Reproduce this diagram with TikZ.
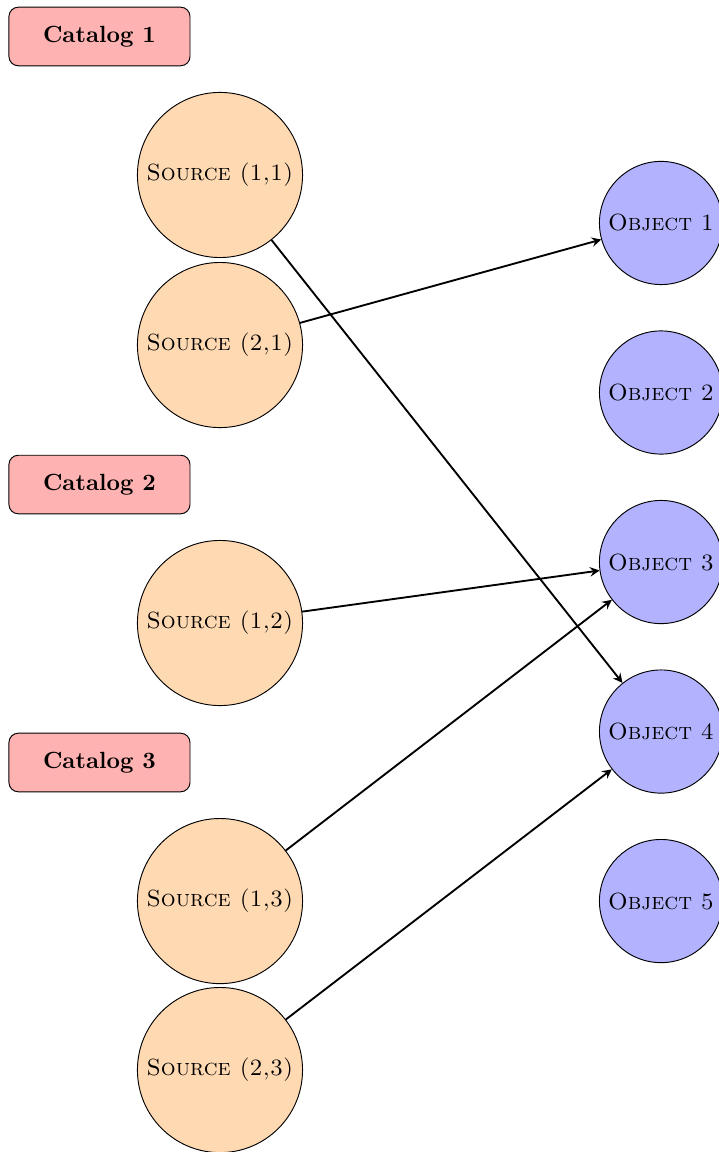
\documentclass[tikz,border=0pt]{standalone}
\usepackage{amsmath, amssymb}
\usepackage{tikz}
\usepackage{xcolor}
\usetikzlibrary{arrows}

\tikzset{
    catbox/.style={rectangle, rounded corners, draw, fill=red!30, minimum width=2.72cm, minimum height=0.88cm, font=\bfseries},
    srcnode/.style={circle, draw, fill=orange!30, minimum size=2.48cm, inner sep=1pt},
    objnode/.style={circle, draw, fill=blue!30, minimum size=1.85cm, inner sep=1pt},
    link/.style={->, >=stealth, thick}
}

\begin{document}
\begin{tikzpicture}
        \useasboundingbox (0,0) rectangle (10.784,-17.302);

        % Catalogs
        \node[catbox] (cat1) at (1.494, -0.548) {Catalog 1};
        \node[catbox] (cat2) at (1.494, -7.277) {Catalog 2};
        \node[catbox] (cat3) at (1.494, -11.452) {Catalog 3};

        % Sources
        \node[srcnode] (s11) at (3.304, -2.628) {\textsc{Source (1,1)}};
        \node[srcnode] (s21) at (3.304, -5.182) {\textsc{Source (2,1)}};
        \node[srcnode] (s12) at (3.304, -9.357) {\textsc{Source (1,2)}};
        \node[srcnode] (s13) at (3.304, -13.533) {\textsc{Source (1,3)}};
        \node[srcnode] (s23) at (3.304, -16.071) {\textsc{Source (2,3)}};

        % Objects
        \node[objnode] (o1) at (9.928, -3.349) {\textsc{Object 1}};
        \node[objnode] (o2) at (9.928, -5.895) {\textsc{Object 2}};
        \node[objnode] (o3) at (9.928, -8.441) {\textsc{Object 3}};
        \node[objnode] (o4) at (9.928, -10.987) {\textsc{Object 4}};
        \node[objnode] (o5) at (9.928, -13.533) {\textsc{Object 5}};

        % Lines
        \draw[link] (s11) -- (o4);
        \draw[link] (s21) -- (o1);
        \draw[link] (s12) -- (o3);
        \draw[link] (s13) -- (o3);
        \draw[link] (s23) -- (o4);
    \end{tikzpicture}
\end{document}
